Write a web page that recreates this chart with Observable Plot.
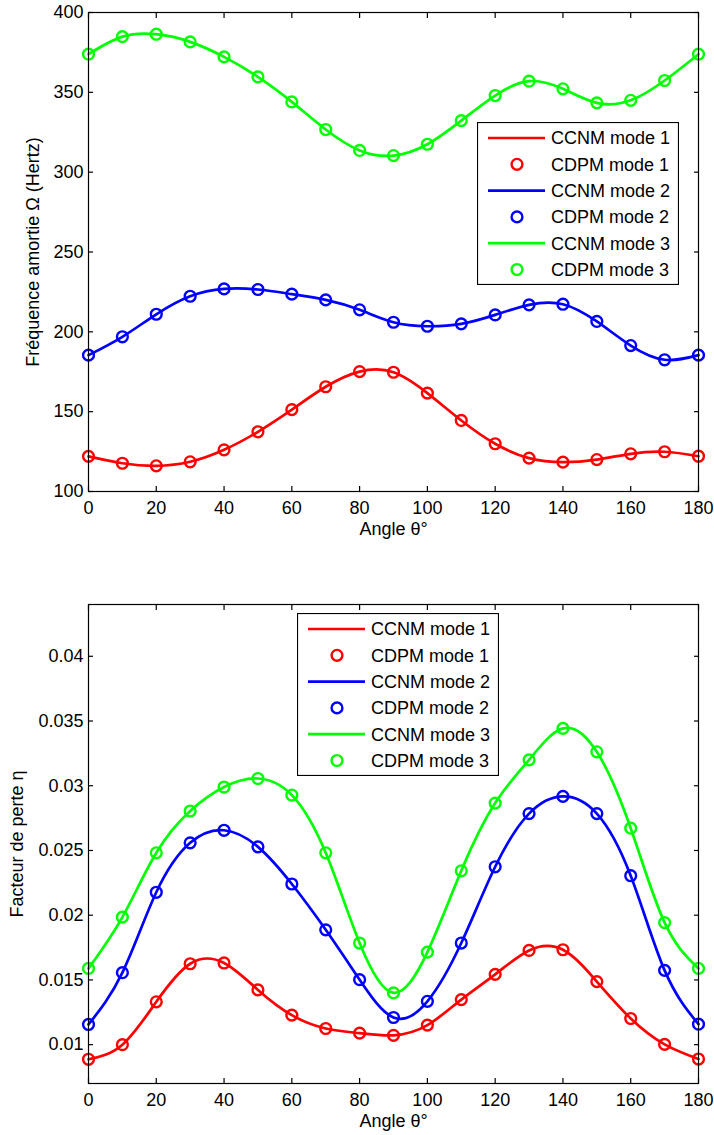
<!DOCTYPE html>
<html><head><meta charset="utf-8">
<script src="https://cdn.jsdelivr.net/npm/d3@7"></script>
<script src="https://cdn.jsdelivr.net/npm/@observablehq/plot@0.6"></script>
<style>
body{margin:0;background:#fff;font-family:"Liberation Sans",Arial,sans-serif;}
#wrap{position:relative;width:714px;height:1135px;background:#fff;}
#wrap svg{display:block;}
.legend{position:absolute;}
</style></head><body><div id="wrap"></div>
<script>
const angles = [0,10,20,30,40,50,60,70,80,90,100,110,120,130,140,150,160,170,180];
const modes = ["mode 1","mode 2","mode 3"];
const modeColors = ["#ff0000","#0000ff","#00ff00"];
const freqMode1 = [122.0,117.7,116.1,118.6,126.1,137.4,151.3,165.6,175.1,174.7,161.6,144.5,129.9,120.9,118.4,120.0,123.6,124.9,122.1];
const freqMode2 = [185.4,196.9,211.0,222.3,226.9,226.5,223.6,220.0,213.8,206.0,203.5,205.0,210.6,216.9,217.3,206.5,191.4,182.5,185.4];
const freqMode3 = [373.9,384.9,386.4,381.6,372.2,359.7,344.0,326.7,313.6,310.4,317.5,332.3,348.0,357.0,352.2,343.4,345.0,357.4,373.9];
const lossMode1 = [0.00887,0.0100,0.01331,0.01625,0.01631,0.01423,0.01228,0.01125,0.01089,0.01072,0.01151,0.01348,0.01543,0.01728,0.01733,0.01487,0.01202,0.01002,0.00889];
const lossMode2 = [0.01156,0.01556,0.02177,0.02559,0.02656,0.02528,0.02241,0.01887,0.01502,0.0121,0.01335,0.01785,0.02374,0.02785,0.02918,0.02785,0.02305,0.01574,0.01158];
const lossMode3 = [0.01589,0.01985,0.02482,0.02805,0.0299,0.03056,0.02928,0.02482,0.01785,0.0140,0.01715,0.02343,0.02866,0.0320,0.03443,0.03262,0.02672,0.01943,0.01589];
const xTicks = [0,20,40,60,80,100,120,140,160,180];
const freqTicks = [100,150,200,250,300,350,400];
const lossTicks = [0.01,0.015,0.02,0.025,0.03,0.035,0.04];
const xLabel = "Angle θ°";
const freqLabel = "Fréquence amortie Ω (Hertz)";
const lossLabel = "Facteur de perte η";
const legendNames = ["CCNM","CDPM"];

const FONT = "Liberation Sans, Arial, sans-serif";
const wrap = document.getElementById("wrap");

function rowsOf(series) {
  const rows = [];
  series.forEach((vals, i) => vals.forEach((v, j) => rows.push({angle: angles[j], value: v, mode: modes[i]})));
  return rows;
}

function panel({series, yDomain, yTicks, yFormat, yLabel, yLabelDx, height, marginTop, marginBottom, xLabelDy}) {
  const rows = rowsOf(series);
  const fs = 18;
  return Plot.plot({
    width: 714, height, marginTop, marginBottom, marginLeft: 88, marginRight: 16,
    style: {fontFamily: FONT, fontSize: fs + "px", color: "black", background: "white"},
    x: {domain: [0, 180], ticks: xTicks},
    y: {domain: yDomain, ticks: yTicks},
    color: {domain: modes, range: modeColors},
    marks: [
      Plot.line(rows, {x: "angle", y: "value", z: "mode", stroke: "mode", curve: "natural", strokeWidth: 2.7}),
      Plot.dot(rows, {x: "angle", y: "value", stroke: "mode", r: 5.4, strokeWidth: 2.4, fill: "none"}),
      Plot.frame({stroke: "black", strokeWidth: 1.2}),
      Plot.axisX({anchor: "bottom", ticks: xTicks, tickSize: 5, dy: -5, tickFormat: () => "", label: null, strokeWidth: 1.2}),
      Plot.axisX({anchor: "top", ticks: xTicks, tickSize: 5, dy: 5, tickFormat: () => "", label: null, strokeWidth: 1.2}),
      Plot.axisY({anchor: "left", ticks: yTicks, tickSize: 5, dx: 5, tickFormat: () => "", label: null, strokeWidth: 1.2}),
      Plot.axisY({anchor: "right", ticks: yTicks, tickSize: 5, dx: -5, tickFormat: () => "", label: null, strokeWidth: 1.2}),
      Plot.axisX({anchor: "bottom", ticks: xTicks, tickSize: 0, tickPadding: 10, fontSize: fs, label: null}),
      Plot.axisY({anchor: "left", ticks: yTicks, tickSize: 0, tickPadding: 5, fontSize: fs, tickFormat: yFormat, label: null}),
      Plot.text([xLabel], {frameAnchor: "bottom", dy: xLabelDy, text: d => d, fontSize: fs, lineAnchor: "middle", textAnchor: "middle", fill: "black"}),
      Plot.text([yLabel], {frameAnchor: "left", dx: yLabelDx, rotate: -90, text: d => d, fontSize: fs, lineAnchor: "middle", textAnchor: "middle", fill: "black"})
    ]
  });
}

const topPanel = panel({
  series: [freqMode1, freqMode2, freqMode3],
  yDomain: [100, 400], yTicks: freqTicks, yFormat: d => String(d),
  yLabel: freqLabel, yLabelDx: -55,
  height: 540, marginTop: 12, marginBottom: 49, xLabelDy: 38
});
const bottomPanel = panel({
  series: [lossMode1, lossMode2, lossMode3],
  yDomain: [0.007, 0.044], yTicks: lossTicks, yFormat: d => String(+d.toFixed(3)),
  yLabel: lossLabel, yLabelDx: -71,
  height: 595, marginTop: 64, marginBottom: 52, xLabelDy: 38
});
wrap.appendChild(topPanel);
wrap.appendChild(bottomPanel);

function legend(left, topPos) {
  const W = 202, H = 163;
  const svg = d3.create("svg").attr("class", "legend").attr("width", W).attr("height", H)
    .style("left", left + "px").style("top", topPos + "px");
  svg.append("rect").attr("x", 0.5).attr("y", 0.5).attr("width", W - 1).attr("height", H - 1)
    .attr("fill", "white").attr("stroke", "black").attr("stroke-width", 1.2);
  let i = 0;
  modes.forEach((m, k) => {
    legendNames.forEach((n, t) => {
      const y = 16 + i * 26.3;
      const g = svg.append("g");
      if (t === 0) {
        g.append("line").attr("x1", 11).attr("x2", 68).attr("y1", y).attr("y2", y)
          .attr("stroke", modeColors[k]).attr("stroke-width", 2.7);
      } else {
        g.append("circle").attr("cx", 40).attr("cy", y).attr("r", 5.4)
          .attr("fill", "none").attr("stroke", modeColors[k]).attr("stroke-width", 2.4);
      }
      g.append("text").attr("x", 74).attr("y", y).attr("dy", "0.35em")
        .attr("font-family", FONT).attr("font-size", 18).attr("fill", "black").text(n + " " + m);
      i++;
    });
  });
  wrap.appendChild(svg.node());
}
legend(477, 122);
legend(297, 613);
</script>
</body></html>
